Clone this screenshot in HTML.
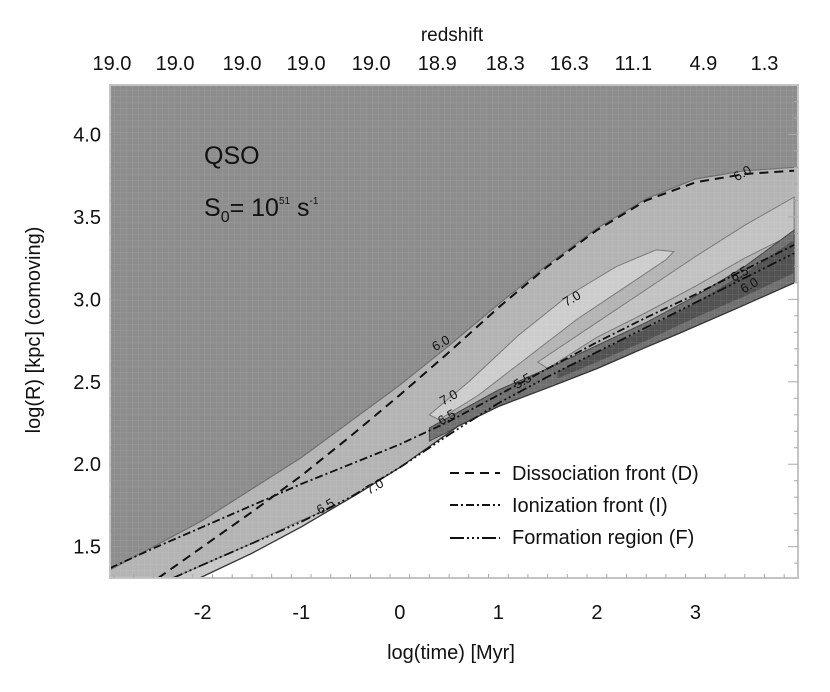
<!DOCTYPE html>
<html><head><meta charset="utf-8"><style>
html,body{margin:0;padding:0;background:#fff;}
svg{display:block;font-family:"Liberation Sans",sans-serif;}
</style></head><body>
<svg id="chart" width="830" height="692" viewBox="0 0 830 692" xmlns="http://www.w3.org/2000/svg">
<defs>
<pattern id="grid" width="6" height="6" patternUnits="userSpaceOnUse">
<path d="M0 0H6M0 0V6" stroke="#ffffff" stroke-opacity="0.12" stroke-width="1" fill="none"/>
</pattern>
<clipPath id="plotclip"><rect x="110" y="85" width="688" height="493"/></clipPath>
</defs>
<g id="plot" clip-path="url(#plotclip)"></g>
<g id="overlay"></g>
</svg>
<script>
// ---- data ----
const xTicks = [-2, -1, 0, 1, 2, 3];
const yTicks = [1.5, 2.0, 2.5, 3.0, 3.5, 4.0];
const redshiftLabels = ["19.0","19.0","19.0","19.0","19.0","18.9","18.3","16.3","11.1","4.9","1.3"];
const redshiftLogT = [-2.92,-2.28,-1.6,-0.95,-0.29,0.38,1.07,1.72,2.37,3.08,3.7];
// curves: log(time), log(R)
const dFrontT = [-2.45,-2,-1.5,-1,-0.5,0,0.5,1,1.5,2,2.5,3,3.5,4];
const dFrontR = [1.31,1.50,1.71,1.93,2.17,2.42,2.68,2.95,3.20,3.42,3.60,3.71,3.76,3.78];
const iFrontT = [-2.94,-2.5,-2,-1.5,-1,-0.5,0,0.5,1,1.5,2,2.5,3,3.5,4];
const iFrontR = [1.37,1.49,1.62,1.75,1.88,2.0,2.12,2.26,2.42,2.58,2.74,2.89,3.03,3.18,3.33];
const fFrontT = [-2.3,-2,-1.5,-1,-0.5,0,0.5,1,1.5,2,2.5,3,3.5,4];
const fFrontR = [1.31,1.39,1.52,1.65,1.80,1.98,2.18,2.37,2.53,2.68,2.83,2.98,3.13,3.28];
const edgeT = [-2.03,-1.5,-1,-0.43,0,0.59,1,1.53,2,2.5,2.82,3.4,4.0];
const edgeR = [1.31,1.46,1.62,1.82,1.98,2.23,2.35,2.47,2.58,2.71,2.79,2.94,3.10];
const upperT = [-2.94,-2.5,-2,-1.5,-1,-0.5,0,0.5,1,1.5,2,2.5,3,3.5,4];
const upperR = [1.36,1.50,1.66,1.85,2.04,2.26,2.48,2.72,2.97,3.21,3.43,3.61,3.73,3.78,3.80];
const islandT = [0.3,0.7,1.2,1.7,2.2,2.6,2.78,2.7,2.3,1.8,1.3,0.8,0.4];
const islandR = [2.30,2.50,2.78,3.02,3.20,3.30,3.29,3.24,3.08,2.88,2.65,2.42,2.27];
const brightT = [1.4,2,2.5,3,3.5,4,4,3.5,3,2.5,2,1.5];
const brightR = [2.62,2.86,3.06,3.26,3.45,3.62,3.40,3.25,3.08,2.92,2.77,2.58];
const darkT = [0.3,1,1.5,2,2.5,3,3.5,4,4,3.4,2.82,2.5,2,1.53,1,0.3];
const darkR = [2.22,2.45,2.58,2.72,2.86,3.02,3.20,3.42,3.10,2.94,2.79,2.71,2.58,2.47,2.35,2.14];
const coreT = [1.6,2,2.5,3,3.5,4,4,3.5,3,2.5,2,1.6];
const coreR = [2.56,2.68,2.82,2.98,3.16,3.36,3.16,3.02,2.89,2.75,2.62,2.52];
const lowLightT = [-2.3,-1.5,-1,-0.5,0,0.3,0,-0.43,-1,-1.5,-2.03];
const lowLightR = [1.31,1.52,1.66,1.78,1.88,2.05,1.98,1.82,1.62,1.46,1.31];
const contourLabels = ["6.0","6.0","7.0","7.0","6.5","5.5","6.5","7.0","6.0","6.5"];
const labelT = [0.42,3.48,1.75,0.5,0.48,1.25,-0.75,-0.25,3.55,3.45];
const labelR = [2.73,3.76,3.0,2.40,2.28,2.50,1.74,1.86,3.08,3.15];

// ---- scales ----
const X0=110,X1=798,Y0=578,Y1=85;
const xmin=-2.94,xmax=4.04,ymin=1.31,ymax=4.30;
const sx=t=>X0+(t-xmin)/(xmax-xmin)*(X1-X0);
const sy=r=>Y0-(r-ymin)/(ymax-ymin)*(Y0-Y1);
const NS="http://www.w3.org/2000/svg";
const plot=document.getElementById('plot');
const ov=document.getElementById('overlay');
function mk(tag,attrs,parent){const e=document.createElementNS(NS,tag);for(const k in attrs)e.setAttribute(k,attrs[k]);parent.appendChild(e);return e;}
function pts(T,R){return T.map((t,i)=>sx(t).toFixed(1)+','+sy(R[i]).toFixed(1)).join(' ');}
function line(T,R){return 'M'+T.map((t,i)=>sx(t).toFixed(1)+' '+sy(R[i]).toFixed(1)).join(' L');}

// background
let e=mk('rect',{x:X0,y:Y1,width:X1-X0,height:Y0-Y1,fill:'#8d8d8d'},plot);


// light band: upper contour down to edge, closed at bottom
const bandPoly=pts(upperT,upperR)+' '+sx(4.1)+','+sy(3.8)+' '+sx(4.1)+','+sy(1.0)+' '+sx(-3)+','+sy(1.0);
e=mk('polygon',{points:bandPoly,fill:'#b4b4b4'},plot);


e=mk('path',{d:line(upperT,upperR),stroke:'#6e6e6e','stroke-width':1.2,fill:'none'},plot);


e=mk('polygon',{points:pts(islandT,islandR),fill:'#cdcdcd',stroke:'#777','stroke-width':1},plot);


e=mk('polygon',{points:pts(brightT,brightR),fill:'#c2c2c2',stroke:'#777','stroke-width':1},plot);


e=mk('polygon',{points:pts(darkT,darkR),fill:'#707070',stroke:'#444','stroke-width':1},plot);


e=mk('polygon',{points:pts(coreT,coreR),fill:'#525252'},plot);


e=mk('polygon',{points:pts(lowLightT,lowLightR),fill:'#c8c8c8',stroke:'#777','stroke-width':1},plot);


// grid overlay
e=mk('rect',{x:X0,y:Y1,width:X1-X0,height:Y0-Y1,fill:'url(#grid)'},plot);


// white region below edge
const whitePoly=pts(edgeT,edgeR)+' '+sx(4.1)+','+sy(3.1)+' '+sx(4.1)+','+sy(1.0)+' '+sx(-2.03)+','+sy(1.0);
e=mk('polygon',{points:whitePoly,fill:'#ffffff'},plot);


e=mk('path',{d:line(edgeT,edgeR),stroke:'#333','stroke-width':1.3,fill:'none'},plot);


// fronts
e=mk('path',{d:line(dFrontT,dFrontR),stroke:'#111','stroke-width':2,fill:'none','stroke-dasharray':'9 6'},plot);


e=mk('path',{d:line(iFrontT,iFrontR),stroke:'#111','stroke-width':1.8,fill:'none','stroke-dasharray':'8 3 2 3'},plot);


e=mk('path',{d:line(fFrontT,fFrontR),stroke:'#111','stroke-width':1.8,fill:'none','stroke-dasharray':'10 3 2 3 2 3 2 3'},plot);


// contour labels
contourLabels.forEach((s,i)=>{
  const x=sx(labelT[i]),y=sy(labelR[i]);
  const t=mk('text',{x:x,y:y,'font-size':13,fill:'#111','text-anchor':'middle','dominant-baseline':'middle',transform:`rotate(-30 ${x} ${y})`},plot);
  t.textContent=s;
  
  
});
// frame
e=mk('rect',{x:X0,y:Y1,width:X1-X0,height:Y0-Y1,fill:'none',stroke:'#c4c4c4','stroke-width':2},ov);


// x ticks & labels
for(let v=-2.9;v<=4.0;v+=0.2){
  const x=sx(v);const major=Math.abs(v-Math.round(v))<0.01&&Math.round(v)>=-2;
  mk('line',{x1:x,x2:x,y1:Y0,y2:Y0-(major?10:4),stroke:'#aaa','stroke-width':1},ov);
}
xTicks.forEach(v=>{
  const t=mk('text',{x:sx(v),y:619,'font-size':20,fill:'#111','text-anchor':'middle'},ov);
  t.textContent=String(v);
  
  
});
for(let v=1.4;v<=4.3;v+=0.1){
  const y=sy(v);const major=Math.abs(v*2-Math.round(v*2))<0.01;
  mk('line',{x1:X1,x2:X1-(major?10:4),y1:y,y2:y,stroke:'#aaa','stroke-width':1},ov);
  mk('line',{x1:X0,x2:X0+(major?10:4),y1:y,y2:y,stroke:'#999','stroke-width':1,'stroke-opacity':0.5},ov);
}
yTicks.forEach(v=>{
  const t=mk('text',{x:101,y:sy(v)+7,'font-size':20,fill:'#111','text-anchor':'end'},ov);
  t.textContent=v.toFixed(1);
  
  
});
redshiftLabels.forEach((s,i)=>{
  const t=mk('text',{x:sx(redshiftLogT[i]),y:70,'font-size':20,fill:'#111','text-anchor':'middle'},ov);
  t.textContent=s;
  
  
});
</script>
<svg style="position:absolute;left:0;top:0" width="830" height="692">
<text x="452" y="41" font-size="19" text-anchor="middle" fill="#111" font-family="Liberation Sans,sans-serif">redshift</text>
<text x="451" y="659" font-size="20" text-anchor="middle" fill="#111" font-family="Liberation Sans,sans-serif">log(time) [Myr]</text>
<text transform="translate(40 330) rotate(-90)" font-size="20" text-anchor="middle" fill="#111" font-family="Liberation Sans,sans-serif">log(R) [kpc] (comoving)</text>
<text x="204" y="164" font-size="25" fill="#111" font-family="Liberation Sans,sans-serif">QSO</text>
<text x="204" y="216" font-size="25" fill="#111" font-family="Liberation Sans,sans-serif">S<tspan font-size="16" dy="6">0</tspan><tspan dy="-6">= 10</tspan><tspan font-size="10" dy="-12">51</tspan><tspan dy="12"> s</tspan><tspan font-size="10" dy="-12">-1</tspan></text>
<g font-family="Liberation Sans,sans-serif" font-size="20" fill="#111">
<line x1="450" y1="473" x2="500" y2="473" stroke="#111" stroke-width="2" stroke-dasharray="9 6"/>
<text x="512" y="480">Dissociation front (D)</text>
<line x1="450" y1="505" x2="500" y2="505" stroke="#111" stroke-width="2" stroke-dasharray="8 3 2 3"/>
<text x="512" y="512">Ionization front (I)</text>
<line x1="450" y1="538" x2="500" y2="538" stroke="#111" stroke-width="2" stroke-dasharray="14 3 2 3 2 3 2 3"/>
<text x="512" y="544">Formation region (F)</text>
</g>
</svg>
</body></html>
